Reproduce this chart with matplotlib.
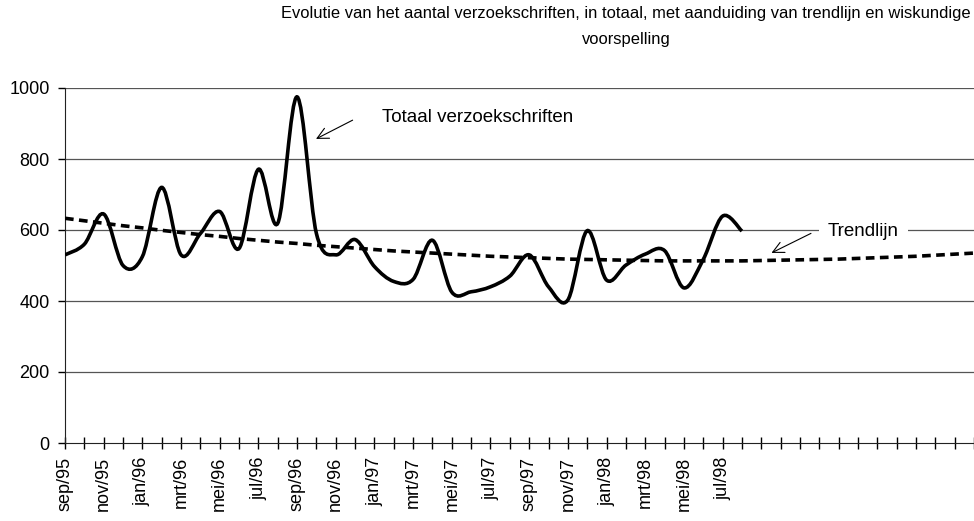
import matplotlib
matplotlib.use('Agg')
import matplotlib.pyplot as plt
from matplotlib.path import Path
from matplotlib.patches import PathPatch

plt.rcParams['font.family'] = ['Liberation Sans', 'DejaVu Sans']

# Monthly totals, sep/95 .. aug/98
months = ['sep/95', 'okt/95', 'nov/95', 'dec/95', 'jan/96', 'feb/96', 'mrt/96', 'apr/96',
          'mei/96', 'jun/96', 'jul/96', 'aug/96', 'sep/96', 'okt/96', 'nov/96', 'dec/96',
          'jan/97', 'feb/97', 'mrt/97', 'apr/97', 'mei/97', 'jun/97', 'jul/97', 'aug/97',
          'sep/97', 'okt/97', 'nov/97', 'dec/97', 'jan/98', 'feb/98', 'mrt/98', 'apr/98',
          'mei/98', 'jun/98', 'jul/98', 'aug/98']
totaal = [530, 560, 645, 500, 525, 720, 530, 590, 652, 548, 771, 619,
          975, 590, 530, 573, 497, 455, 461, 571, 425, 426, 440, 470,
          530, 440, 403, 598, 459, 501, 532, 542, 437, 517, 639, 597]

# Trend line incl. forecast, sep/95 .. aug/99
trend = [633, 626, 619, 612, 606, 599, 593, 587, 582, 576, 571, 566,
         562, 557, 553, 549, 545, 541, 538, 535, 532, 529, 526, 524,
         522, 520, 518, 517, 516, 515, 514, 513, 513, 513, 513, 513,
         514, 515, 516, 517, 518, 520, 522, 524, 526, 529, 532, 535]


def smooth_path(x, y):
    # Excel-style smoothed line: cubic bezier through every point
    n = len(x)
    verts = [(x[0], y[0])]
    codes = [Path.MOVETO]
    for i in range(n - 1):
        a = max(i - 1, 0)
        b = min(i + 2, n - 1)
        c1 = (x[i] + (x[i + 1] - x[a]) / 6, y[i] + (y[i + 1] - y[a]) / 6)
        c2 = (x[i + 1] - (x[b] - x[i]) / 6, y[i + 1] - (y[b] - y[i]) / 6)
        verts += [c1, c2, (x[i + 1], y[i + 1])]
        codes += [Path.CURVE4] * 3
    return Path(verts, codes)


fig = plt.figure(figsize=(9.74, 5.21), dpi=100)
ax = fig.add_axes([65 / 974, 1 - 443 / 521, 1 - 65 / 974, 355 / 521])

x_tot = list(range(len(totaal)))
x_trend = list(range(len(trend)))

ax.plot(x_trend, trend, color='black', lw=2.6, dashes=(2.4, 1.5), zorder=3)
ax.add_patch(PathPatch(smooth_path(x_tot, totaal), facecolor='none',
                       edgecolor='black', lw=2.6, capstyle='butt', zorder=4))

ax.set_xlim(0, len(trend) - 1)
ax.set_ylim(0, 1000)
ax.set_yticks([0, 200, 400, 600, 800, 1000])
for v in [200, 400, 600, 800, 1000]:
    ax.axhline(v, color='#555555', lw=0.9, zorder=1)

labels = [m if i % 2 == 0 else '' for i, m in enumerate(months)]
labels += [''] * (len(trend) - len(months))
ax.set_xticks(x_trend)
ax.set_xticklabels(labels, rotation=90, fontsize=13)
ax.tick_params(axis='x', direction='inout', length=8, width=1, pad=6)
ax.tick_params(axis='y', direction='out', length=5, width=1, pad=6, labelsize=13)

for s in ['top', 'right']:
    ax.spines[s].set_visible(False)
for s in ['left', 'bottom']:
    ax.spines[s].set_color('#222222')

# annotations
ax.text(16.4, 918, 'Totaal verzoekschriften', fontsize=13.5, va='center', ha='left')
ax.annotate('', xy=(12.85, 853), xytext=(15.0, 913),
            arrowprops=dict(arrowstyle='->', lw=0.8, color='black', mutation_scale=20))
ax.text(39.45, 597, 'Trendlijn', fontsize=13.5, va='center', ha='left', zorder=5,
        bbox=dict(facecolor='white', edgecolor='none', boxstyle='square,pad=0.5'))
ax.annotate('', xy=(36.4, 532), xytext=(38.7, 594),
            arrowprops=dict(arrowstyle='->', lw=0.8, color='black', mutation_scale=20),
            zorder=6)

fig.text(626 / 974, 1 - 26.5 / 521,
         'Evolutie van het aantal verzoekschriften, in totaal, met aanduiding van trendlijn en wiskundige\nvoorspelling',
         ha='center', va='center', fontsize=11.9, linespacing=1.85)

fig.savefig('out.png', dpi=100)
